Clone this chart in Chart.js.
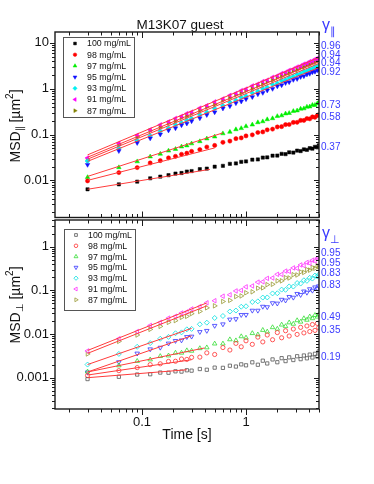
<!DOCTYPE html>
<html>
<head>
<meta charset="utf-8">
<script src="https://cdn.jsdelivr.net/npm/chart.js@4.4.0/dist/chart.umd.min.js"></script>
<style>
  html, body { margin: 0; padding: 0; background: #fff; }
  #wrap { position: relative; width: 374px; height: 484px; overflow: hidden; }
  canvas { position: absolute; left: 0; }
  #cTop { top: 0; }
  #cBot { top: 212px; }
</style>
</head>
<body>
<div id="wrap">
  <canvas id="cTop" width="374" height="222"></canvas>
  <canvas id="cBot" width="374" height="272"></canvas>
</div>
<script>
// lag time [s]
const times = [0.03, 0.06, 0.09, 0.12, 0.15, 0.18, 0.21, 0.24, 0.27, 0.30, 0.36, 0.42, 0.50, 0.60, 0.70, 0.80, 0.90, 1.00,
  1.15, 1.30, 1.45, 1.60, 1.80, 2.00, 2.20, 2.40, 2.60, 2.85, 3.10, 3.35, 3.60, 3.85, 4.10, 4.35, 4.60, 4.85, 5.00];

const concLabels = ['100 mg/mL', '98 mg/mL', '97 mg/mL', '95 mg/mL', '93 mg/mL', '91 mg/mL', '87 mg/mL'];

// MSD parallel [um^2]
const msdPar100 = [0.0064, 0.0082, 0.0094, 0.0111, 0.0121, 0.0130, 0.0141, 0.0145, 0.0156, 0.0160, 0.0176, 0.0181, 0.0199, 0.0208, 0.0230, 0.0234, 0.0254, 0.0259,
  0.0283, 0.0286, 0.0315, 0.0318, 0.0346, 0.0349, 0.0380, 0.0374, 0.0411, 0.0405, 0.0447, 0.0436, 0.0475, 0.0463, 0.0505, 0.0492, 0.0540, 0.0523, 0.0580];
const msdPar98 = [0.00975, 0.0148, 0.0190, 0.0240, 0.0270, 0.0310, 0.0335, 0.0372, 0.0392, 0.0430, 0.0471, 0.0536, 0.0580, 0.0676, 0.0720, 0.0815, 0.0845, 0.0935,
  0.0985, 0.1110, 0.1140, 0.1270, 0.1315, 0.1465, 0.1490, 0.1650, 0.1660, 0.1840, 0.1850, 0.2040, 0.2030, 0.2240, 0.2200, 0.2430, 0.2380, 0.2620, 0.2700];
const msdPar97 = [0.0117, 0.0192, 0.0258, 0.0330, 0.0378, 0.0443, 0.0482, 0.0545, 0.0575, 0.0636, 0.0710, 0.0815, 0.0898, 0.1055, 0.1140, 0.1295, 0.1370, 0.1515,
  0.1640, 0.1840, 0.1930, 0.2140, 0.2250, 0.2510, 0.2600, 0.2860, 0.2930, 0.3240, 0.3330, 0.3640, 0.3700, 0.4030, 0.4060, 0.4410, 0.4400, 0.4790, 0.4900];
const msdPar95 = [0.0220, 0.0440, 0.0660, 0.0830, 0.1010, 0.1240, 0.1380, 0.1610, 0.1750, 0.1970, 0.2280, 0.2690, 0.3080, 0.3740, 0.4190, 0.4870, 0.5290, 0.5960,
  0.6620, 0.7620, 0.8180, 0.9220, 1.000, 1.132, 1.201, 1.340, 1.401, 1.571, 1.647, 1.821, 1.892, 2.066, 2.134, 2.312, 2.370, 2.560, 2.640];
const msdPar93 = [0.0265, 0.0510, 0.0745, 0.0940, 0.1190, 0.1380, 0.1630, 0.1810, 0.2060, 0.2230, 0.2710, 0.3060, 0.3690, 0.4270, 0.5060, 0.5610, 0.6410, 0.6930,
  0.8070, 0.8850, 1.003, 1.076, 1.232, 1.325, 1.486, 1.570, 1.742, 1.850, 2.056, 2.152, 2.366, 2.448, 2.673, 2.747, 2.980, 3.050, 3.220];
const msdPar91 = [0.0310, 0.0650, 0.0970, 0.1280, 0.1640, 0.1900, 0.2260, 0.2510, 0.2880, 0.3110, 0.3790, 0.4290, 0.5200, 0.6050, 0.7180, 0.7980, 0.9140, 0.9900,
  1.157, 1.271, 1.446, 1.551, 1.781, 1.921, 2.156, 2.289, 2.532, 2.702, 2.996, 3.153, 3.465, 3.603, 3.925, 4.041, 4.384, 4.500, 4.800];
const msdPar87 = [0.0280, 0.0600, 0.0895, 0.1220, 0.1460, 0.1790, 0.2010, 0.2350, 0.2550, 0.2900, 0.3360, 0.3990, 0.4600, 0.5600, 0.6330, 0.7370, 0.8030, 0.9100,
  1.015, 1.168, 1.262, 1.425, 1.549, 1.762, 1.876, 2.092, 2.199, 2.465, 2.597, 2.876, 2.995, 3.281, 3.391, 3.680, 3.789, 4.090, 4.300];

// MSD perpendicular [um^2]
const msdPerp100 = [0.00093, 0.00105, 0.00118, 0.00120, 0.00131, 0.00130, 0.00140, 0.00138, 0.00148, 0.00145, 0.00158, 0.00152, 0.00170, 0.00168, 0.00188, 0.00180, 0.00202, 0.00192,
  0.00225, 0.00198, 0.00245, 0.00212, 0.00262, 0.00226, 0.00280, 0.00240, 0.00292, 0.00254, 0.00310, 0.00266, 0.00322, 0.00278, 0.00338, 0.00290, 0.00352, 0.00305, 0.00400];
const msdPerp98 = [0.00112, 0.00145, 0.00170, 0.00199, 0.00208, 0.00236, 0.00238, 0.00268, 0.00262, 0.00292, 0.00296, 0.0037, 0.0034, 0.0049, 0.0043, 0.0061, 0.0051, 0.0070,
  0.0058, 0.0085, 0.0066, 0.0095, 0.0074, 0.0108, 0.0082, 0.0119, 0.0090, 0.0130, 0.0098, 0.0142, 0.0106, 0.0153, 0.0114, 0.0165, 0.0121, 0.0175, 0.0140];
const msdPerp97 = [0.00137, 0.0019, 0.0024, 0.0026, 0.0031, 0.0032, 0.0037, 0.0037, 0.0042, 0.0041, 0.0047, 0.0049, 0.0060, 0.0060, 0.0075, 0.0071, 0.0088, 0.0082,
  0.0104, 0.0097, 0.0123, 0.0113, 0.0142, 0.0131, 0.0163, 0.0150, 0.0183, 0.0170, 0.0205, 0.0190, 0.0228, 0.0210, 0.0250, 0.0228, 0.0270, 0.0248, 0.0280];
const msdPerp95 = [0.00133, 0.00228, 0.0036, 0.0045, 0.0049, 0.0061, 0.0070, 0.0072, 0.0086, 0.0088, 0.0112, 0.0119, 0.0155, 0.0168, 0.0216, 0.0221, 0.0275, 0.0276,
  0.0345, 0.0345, 0.0425, 0.0415, 0.0512, 0.0502, 0.0614, 0.0589, 0.0712, 0.0685, 0.0835, 0.0790, 0.0950, 0.0890, 0.1070, 0.0990, 0.1180, 0.1100, 0.1250];
const msdPerp93 = [0.0020, 0.0035, 0.0051, 0.0062, 0.0078, 0.0086, 0.0104, 0.0109, 0.0128, 0.0131, 0.0167, 0.0182, 0.0233, 0.0259, 0.0328, 0.0345, 0.0422, 0.0432,
  0.0541, 0.0560, 0.0684, 0.0688, 0.0850, 0.0858, 0.1040, 0.1030, 0.1230, 0.1220, 0.1470, 0.1430, 0.1700, 0.1650, 0.1940, 0.1860, 0.2180, 0.2080, 0.2300];
const msdPerp91 = [0.0041, 0.0078, 0.0114, 0.0157, 0.0185, 0.0231, 0.0255, 0.0303, 0.0322, 0.0375, 0.0425, 0.0518, 0.0578, 0.0735, 0.0790, 0.0968, 0.1000, 0.1200,
  0.1260, 0.1540, 0.1570, 0.1880, 0.1920, 0.2330, 0.2320, 0.2760, 0.2720, 0.3260, 0.3200, 0.3820, 0.3700, 0.4350, 0.4180, 0.4880, 0.4690, 0.5450, 0.5600];
const msdPerp87 = [0.0035, 0.0068, 0.0095, 0.0128, 0.0150, 0.0185, 0.0203, 0.0241, 0.0254, 0.0293, 0.0330, 0.0398, 0.0442, 0.0556, 0.0590, 0.0722, 0.0745, 0.0880,
  0.0925, 0.1120, 0.1140, 0.1350, 0.1380, 0.1650, 0.1650, 0.1950, 0.1920, 0.2280, 0.2250, 0.2640, 0.2570, 0.2990, 0.2900, 0.3330, 0.3210, 0.3680, 0.3500];

// power-law fits: [start, end] time and MSD, same order as concLabels
const fitParT = [[0.03, 0.45], [0.03, 0.5], [0.03, 0.6], [0.03, 5], [0.03, 5], [0.03, 5], [0.03, 5]];
const fitParV = [[0.0064, 0.0174], [0.0100, 0.0511], [0.0122, 0.109], [0.026, 2.88], [0.029, 3.56], [0.036, 4.8], [0.032, 3.93]];
const fitPerpT = [[0.03, 0.27], [0.03, 0.3], [0.03, 0.4], [0.03, 0.3], [0.03, 0.3], [0.03, 0.42], [0.03, 0.42]];
const fitPerpV = [[0.00100, 0.00152], [0.00115, 0.00258], [0.00135, 0.0048], [0.00135, 0.0091], [0.0020, 0.0135], [0.0042, 0.0515], [0.0036, 0.0442]];

// exponents shown at right edge
const gammaParText = ['0.96', '0.94', '0.94', '0.92', '0.73', '0.58', '0.37'];
const gammaParAt = [8.5, 5.47, 3.57, 2.29, 0.44, 0.234, 0.054];
const gammaPerpText = ['0.95', '0.95', '0.83', '0.83', '0.49', '0.35', '0.19'];
const gammaPerpAt = [0.706, 0.417, 0.246, 0.133, 0.0242, 0.0120, 0.00288];

const FONT = '"Liberation Sans", Arial, sans-serif';
const BLUE = '#3a3aff';
const FIT_COLOR = '#ff3b3b';

const styles = [
  { shape: 'rect', rot: 0, r: 2.3 },
  { shape: 'circle', rot: 0, r: 2.1 },
  { shape: 'triangle', rot: 0, r: 2.6 },
  { shape: 'triangle', rot: 180, r: 2.6 },
  { shape: 'rectRot', rot: 0, r: 2.5 },
  { shape: 'triangle', rot: 270, r: 2.6 },
  { shape: 'triangle', rot: 90, r: 2.6 }
];
const colorsPar = ['#000000', '#ff0000', '#00ee00', '#1010ff', '#00f0f0', '#ff00ff', '#808000'];
const colorsPerp = ['#555555', '#ff3030', '#33dd33', '#3333ff', '#00e0e0', '#ff30ff', '#999933'];

function makeSeries(vals, i, filled, colors) {
  const st = styles[i];
  return {
    label: concLabels[i],
    data: times.map((t, k) => ({ x: t, y: vals[k] })),
    pointStyle: st.shape,
    rotation: st.rot,
    pointRadius: st.r,
    backgroundColor: filled ? colors[i] : 'rgba(0,0,0,0)',
    borderColor: colors[i],
    pointBorderWidth: filled ? 0.5 : 0.8,
    showLine: false,
    order: 2
  };
}

function makeFit(tt, vv) {
  return {
    data: [{ x: tt[0], y: vv[0] }, { x: tt[1], y: vv[1] }],
    showLine: true,
    pointRadius: 0,
    borderColor: FIT_COLOR,
    borderWidth: 1,
    order: 0
  };
}

function logTicks(lo, hi) {
  const major = [], minor = [];
  for (let e = -5; e <= 2; e++) {
    for (let m = 1; m < 10; m++) {
      const v = m * Math.pow(10, e);
      if (v < lo * 0.999 || v > hi * 1.001) continue;
      (m === 1 ? major : minor).push(v);
    }
  }
  return { major, minor };
}

function fmt(v) {
  return v >= 1 ? String(Math.round(v)) : String(parseFloat(v.toPrecision(1)));
}

// frame, ticks, labels, legend and exponent labels for one panel
function panelDecor(o) {
  return {
    id: 'panelDecor',
    afterDraw(chart) {
      const { ctx, chartArea: a, scales: { x, y } } = chart;
      ctx.save();
      ctx.strokeStyle = '#1a1a1a';
      ctx.lineWidth = 1.4;
      ctx.strokeRect(a.left, a.top, a.right - a.left, a.bottom - a.top);

      const xt = logTicks(x.min, x.max), yt = logTicks(y.min, y.max);
      ctx.lineWidth = 1;
      ctx.beginPath();
      const seg = (x1, y1, x2, y2) => { ctx.moveTo(x1, y1); ctx.lineTo(x2, y2); };
      [[xt.major, 6], [xt.minor, 3.5]].forEach(([list, len]) => list.forEach(v => {
        const px = Math.round(x.getPixelForValue(v)) + 0.5;
        seg(px, a.top, px, a.top + len);
        if (o.bottomOut) seg(px, a.bottom, px, a.bottom + len);
        else seg(px, a.bottom, px, a.bottom - len);
      }));
      [[yt.major, 5], [yt.minor, 3]].forEach(([list, len]) => list.forEach(v => {
        const py = Math.round(y.getPixelForValue(v)) + 0.5;
        seg(a.left - len, py, a.left, py);
        seg(a.right - len, py, a.right, py);
      }));
      ctx.stroke();

      ctx.fillStyle = '#111';
      ctx.font = '13px ' + FONT;
      ctx.textAlign = 'right';
      ctx.textBaseline = 'middle';
      yt.major.forEach(v => ctx.fillText(fmt(v), a.left - 6, y.getPixelForValue(v)));
      if (o.xLabels) {
        ctx.textAlign = 'center';
        xt.major.forEach(v => ctx.fillText(fmt(v), x.getPixelForValue(v), o.xLabelY));
        ctx.font = '14px ' + FONT;
        ctx.fillText('Time [s]', (a.left + a.right) / 2, o.xTitleY);
      }
      if (o.title) {
        ctx.font = '13.5px ' + FONT;
        ctx.textAlign = 'center';
        ctx.fillText(o.title, 180, 25);
      }

      // y axis title, rotated
      ctx.save();
      ctx.translate(16, o.yTitleMid);
      ctx.rotate(-Math.PI / 2);
      const big = '14px ' + FONT, small = '10px ' + FONT;
      const parts = [['MSD', big, 0], [o.sub, small, 4], [' [\u00b5m', big, 0], ['2', small, -6], [']', big, 0]];
      let w = 0;
      parts.forEach(p => { ctx.font = p[1]; w += ctx.measureText(p[0]).width; });
      let cx = -w / 2;
      ctx.textAlign = 'left';
      ctx.textBaseline = 'middle';
      parts.forEach(p => { ctx.font = p[1]; ctx.fillText(p[0], cx, p[2]); cx += ctx.measureText(p[0]).width; });
      ctx.restore();

      // legend box
      const lg = o.legend;
      ctx.strokeStyle = '#555';
      ctx.lineWidth = 1;
      ctx.strokeRect(lg.left + 0.5, lg.top + 0.5, lg.w, lg.h);
      ctx.font = '8.8px ' + FONT;
      ctx.textAlign = 'left';
      ctx.textBaseline = 'middle';
      chart.data.datasets.filter(d => d.label).forEach((d, i) => {
        const yy = lg.top + lg.row0 + i * lg.step;
        ctx.fillStyle = d.backgroundColor;
        ctx.strokeStyle = d.borderColor;
        ctx.lineWidth = d.pointBorderWidth;
        Chart.helpers.drawPoint(ctx, { pointStyle: d.pointStyle, rotation: d.rotation, radius: d.pointRadius * 0.85, borderWidth: d.pointBorderWidth }, lg.left + 12, yy);
        ctx.fillStyle = '#111';
        ctx.fillText(d.label, lg.left + 24, yy + 0.5);
      });

      // exponents
      ctx.fillStyle = BLUE;
      ctx.font = '10px ' + FONT;
      o.gText.forEach((t, i) => ctx.fillText(t, a.right + 2, y.getPixelForValue(o.gAt[i])));
      ctx.font = '16px ' + FONT;
      ctx.fillText('\u03b3', 322, o.gHeadY);
      ctx.font = '11px ' + FONT;
      ctx.fillText(o.sub, 330, o.gHeadY + 6);
      ctx.restore();
    }
  };
}

function buildChart(id, datasets, yMin, yMax, padding, decor) {
  return new Chart(document.getElementById(id), {
    type: 'scatter',
    data: { datasets },
    options: {
      responsive: false,
      animation: false,
      devicePixelRatio: 1,
      layout: { padding },
      plugins: { legend: { display: false }, tooltip: { enabled: false } },
      scales: {
        x: { type: 'logarithmic', min: 0.0146, max: 5.03, display: false },
        y: { type: 'logarithmic', min: yMin, max: yMax, display: false }
      }
    },
    plugins: [panelDecor(decor)]
  });
}

const parVals = [msdPar100, msdPar98, msdPar97, msdPar95, msdPar93, msdPar91, msdPar87];
const perpVals = [msdPerp100, msdPerp98, msdPerp97, msdPerp95, msdPerp93, msdPerp91, msdPerp87];

const topSets = parVals.map((v, i) => makeSeries(v, i, true, colorsPar))
  .concat(fitParT.map((t, i) => makeFit(t, fitParV[i])));
const botSets = perpVals.map((v, i) => makeSeries(v, i, false, colorsPerp))
  .concat(fitPerpT.map((t, i) => makeFit(t, fitPerpV[i])));

buildChart('cTop', topSets, 0.00155, 17.3, { left: 55, top: 32, right: 55, bottom: 2 }, {
  title: 'M13K07 guest', sub: '\u2225', yTitleMid: 126, bottomOut: false, xLabels: false,
  legend: { left: 63, top: 37, w: 71, h: 80, row0: 6.5, step: 11.2 },
  gText: gammaParText, gAt: gammaParAt, gHeadY: 26
});
buildChart('cBot', botSets, 0.000192, 4.08, { left: 55, top: 8, right: 55, bottom: 75 }, {
  sub: '\u22a5', yTitleMid: 93, bottomOut: true, xLabels: true, xLabelY: 210, xTitleY: 223,
  legend: { left: 64, top: 17, w: 71, h: 81, row0: 6, step: 10.8 },
  gText: gammaPerpText, gAt: gammaPerpAt, gHeadY: 22
});
</script>
</body>
</html>
